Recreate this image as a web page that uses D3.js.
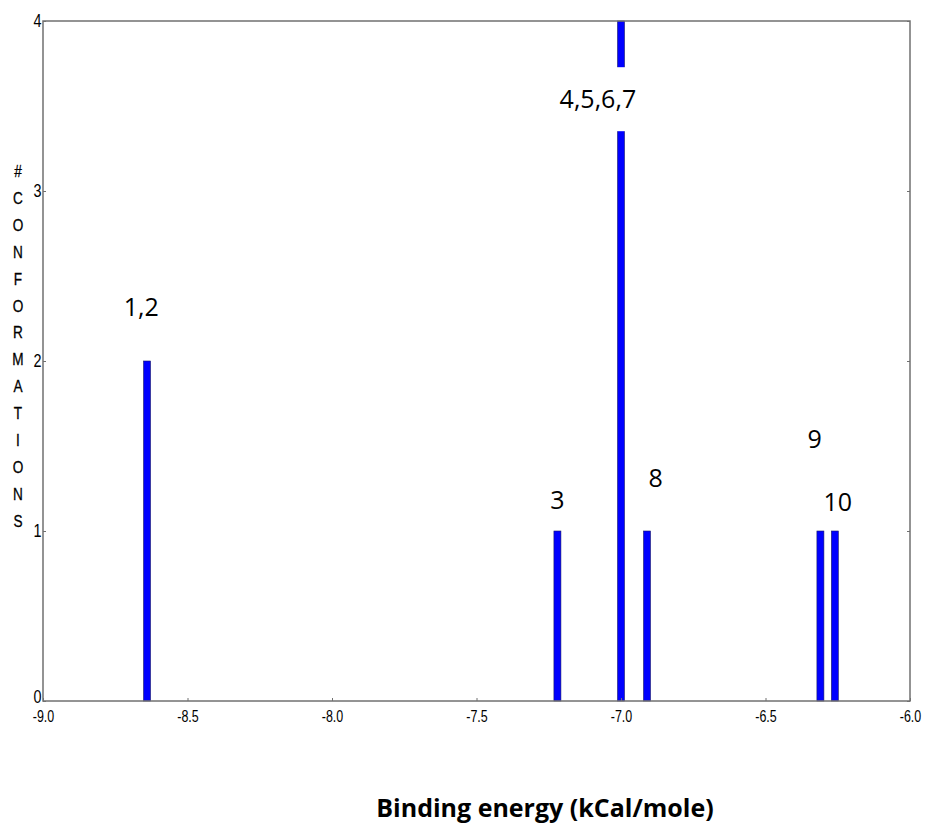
<!DOCTYPE html>
<html>
<head>
<meta charset="utf-8">
<script src="https://cdn.jsdelivr.net/npm/d3@7"></script>
<style>
  body { margin: 0; background: #fff; }
</style>
</head>
<body>
<div id="chart"></div>
<script>
// data
const energies = [-8.64, -7.22, -7.0, -6.91, -6.31, -6.26]
const counts = [2, 1, 4, 1, 1, 1]
const peakLabels = ["1,2", "3", "4,5,6,7", "8", "9", "10"]
const labelX = [-8.66, -7.22, -7.08, -6.88, -6.33, -6.25]
const labelY = [2.32, 1.18, 3.54, 1.31, 1.54, 1.17]
const xTicks = [-9.0, -8.5, -8.0, -7.5, -7.0, -6.5, -6.0]
const yTicks = [0, 1, 2, 3, 4]
const yTitle = "#CONFORMATIONS".split("")

const margin = { top: 21, right: 16, bottom: 125, left: 43 }
const width = 926 - margin.left - margin.right
const height = 826 - margin.top - margin.bottom

const svg = d3.select("#chart").append("svg")
    .attr("width", 926)
    .attr("height", 826)

const g = svg.append("g")
    .attr("transform", `translate(${margin.left}, ${margin.top})`)

const xScale = d3.scaleLinear().domain([-9, -6]).range([0, width])
const yScale = d3.scaleLinear().domain([0, 4]).range([height, 0])

const tickFont = "'Liberation Sans', Arial, sans-serif"

// bars
g.selectAll("rect.bar")
    .data(energies)
    .enter()
    .append("rect")
    .attr("class", "bar")
    .attr("x", d => xScale(d) - 3.5)
    .attr("y", (d, i) => yScale(counts[i]))
    .attr("width", 7)
    .attr("height", (d, i) => height - yScale(counts[i]))
    .attr("fill", "#0000ff")
    .attr("stroke", "#1a1a66")
    .attr("stroke-width", 0.6)

// frame
g.append("rect")
    .attr("width", width)
    .attr("height", height)
    .attr("fill", "none")
    .attr("stroke", "#707070")
    .attr("stroke-width", 1.5)

// axes
const xAxis = d3.axisBottom(xScale).tickValues(xTicks).tickFormat(d => d.toFixed(1)).tickSize(-3).tickSizeOuter(0)
const yAxis = d3.axisLeft(yScale).tickValues(yTicks).tickFormat(d => String(d)).tickSize(-3).tickSizeOuter(0)
const yAxisRight = d3.axisRight(yScale).tickValues(yTicks).tickFormat("").tickSize(-3).tickSizeOuter(0)

const gx = g.append("g")
    .attr("transform", `translate(0, ${height})`)
    .call(xAxis)
gx.select(".domain").remove()
gx.selectAll("line").attr("stroke", "#707070")
gx.selectAll("text")
    .attr("y", 10)
    .attr("fill", "#000")
    .attr("transform", "scale(0.78,1)")
    .style("font-family", tickFont)
    .style("font-size", "16px")

const gy = g.append("g").call(yAxis)
gy.select(".domain").remove()
gy.selectAll("line").attr("stroke", "#707070")
gy.selectAll("text")
    .attr("x", -2)
    .attr("dy", d => d === 0 ? "0.1em" : "0.32em")
    .attr("fill", "#000")
    .attr("transform", "scale(0.8,1)")
    .style("font-family", tickFont)
    .style("font-size", "18px")

const gyr = g.append("g").attr("transform", `translate(${width}, 0)`).call(yAxisRight)
gyr.select(".domain").remove()
gyr.selectAll("line").attr("stroke", "#707070")

// peak labels with white boxes
const lab = g.selectAll("g.lab")
    .data(peakLabels)
    .enter()
    .append("g")
    .attr("class", "lab")
    .attr("transform", (d, i) => `translate(${xScale(labelX[i])}, ${yScale(labelY[i])})`)

lab.append("rect")
    .attr("x", d => -d.length * 7.5 - 4)
    .attr("y", -32)
    .attr("width", d => d.length * 15 + 8)
    .attr("height", 64)
    .attr("fill", "#fff")
    .attr("opacity", (d, i) => i === 2 ? 1 : 0)

lab.append("text")
    .attr("text-anchor", "middle")
    .attr("dy", "0.36em")
    .style("font-family", "'Open Sans', sans-serif")
    .style("font-size", "25px")
    .attr("fill", "#000")
    .text(d => d)

// y title, stacked letters
svg.append("g").selectAll("text")
    .data(yTitle)
    .enter()
    .append("text")
    .attr("transform", (d, i) => `translate(18, ${177 + i * 26.9}) scale(0.8,1)`)
    .attr("text-anchor", "middle")
    .style("font-family", tickFont)
    .style("font-size", "17px")
    .attr("fill", "#000")
    .attr("stroke", "#000")
    .attr("stroke-width", 0.3)
    .text(d => d)

// x title
svg.append("text")
    .attr("x", 545)
    .attr("y", 817)
    .attr("text-anchor", "middle")
    .style("font-family", "'Open Sans', sans-serif")
    .style("font-size", "25px")
    .style("font-weight", "bold")
    .attr("fill", "#000")
    .text("Binding energy (kCal/mole)")
</script>
</body>
</html>
